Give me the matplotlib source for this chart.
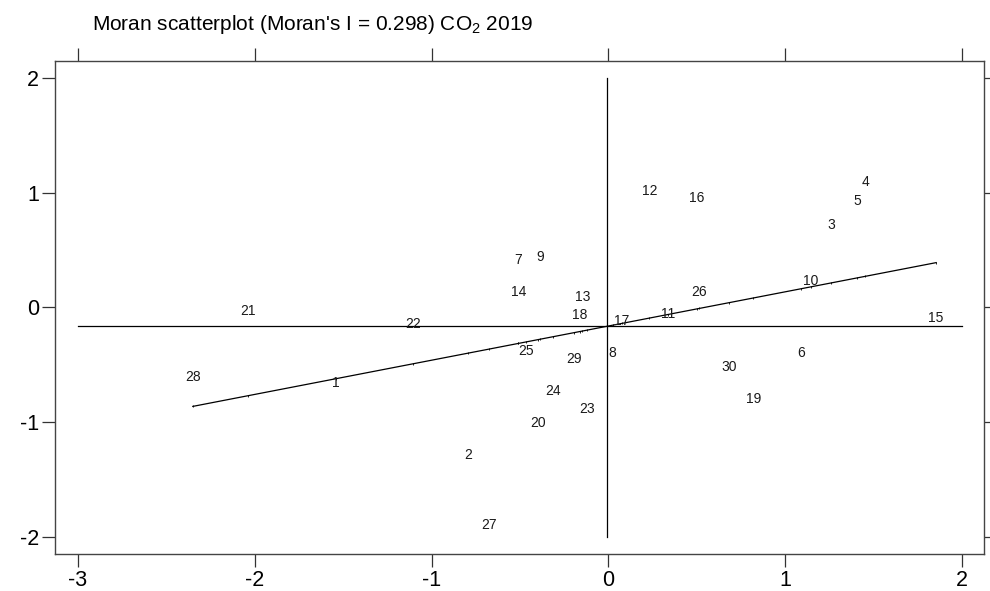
import numpy as np
import matplotlib
matplotlib.use('Agg')
import matplotlib.pyplot as plt

plt.rcParams['font.family'] = ['Liberation Sans', 'DejaVu Sans']
plt.rcParams['mathtext.default'] = 'regular'
plt.rcParams['axes.unicode_minus'] = False

# standardised CO2 (x) and its spatial lag (wx), one entry per region
region_id = np.arange(1, 31)
co2_std = np.array([-1.542, -0.796, 1.259, 1.451, 1.406, 1.088, -0.510, 0.023, -0.385, 1.146,
                    0.335, 0.231, -0.148, -0.510, 1.853, 0.501, 0.075, -0.161, 0.818, -0.396,
                    -2.040, -1.104, -0.119, -0.315, -0.468, 0.514, -0.677, -2.351, -0.195, 0.680])
co2_lag = np.array([-0.677, -1.301, 0.698, 1.072, 0.907, -0.420, 0.395, -0.418, 0.419, 0.210,
                    -0.072, 1.000, 0.073, 0.114, -0.115, 0.933, -0.139, -0.089, -0.813, -1.030,
                    -0.046, -0.162, -0.908, -0.743, -0.398, 0.116, -1.911, -0.627, -0.467, -0.537])
moran_i = 0.298
year = 2019

x_ticks = [-3, -2, -1, 0, 1, 2]
y_ticks = [-2, -1, 0, 1, 2]

fig = plt.figure(figsize=(9.9, 5.91), dpi=100)
ax = fig.add_axes([0.0556, 0.0626, 0.9384, 0.8342])

# labels instead of points
for i, xv, yv in zip(region_id, co2_std, co2_lag):
    ax.annotate(str(i), (xv, yv), xytext=(0, 1.6), textcoords='offset points',
                ha='center', va='center', fontsize=10, color='#1a1a1a')

# regression of lag on x, slope = Moran's I
mx, my = co2_std.mean(), co2_lag.mean()
order = np.argsort(co2_std)
xs = co2_std[order]
fit = my + moran_i * (xs - mx)
ax.plot(xs, fit, color='black', lw=0.9, marker='|', ms=1.8, mew=0.6)

# mean lines
ax.plot([x_ticks[0], x_ticks[-1]], [my, my], color='black', lw=0.9)
ax.plot([mx, mx], [y_ticks[0], y_ticks[-1]], color='black', lw=0.9)

ax.set_xlim(-3.13, 2.124)
ax.set_ylim(-2.148, 2.148)
ax.set_xticks(x_ticks)
ax.set_yticks(y_ticks)
ax.tick_params(direction='out', length=9.4, width=0.9, color='#333333',
               labelsize=15.5, top=True, right=True, pad=2)
for s in ax.spines.values():
    s.set_color('#444444')
    s.set_linewidth(1.0)

fig.text(92 / 990, 1 - 24 / 591,
         "Moran scatterplot (Moran's I = %.3f) CO$_2$ %d" % (moran_i, year),
         ha='left', va='center', fontsize=15)

fig.savefig('out.png', dpi=100)
